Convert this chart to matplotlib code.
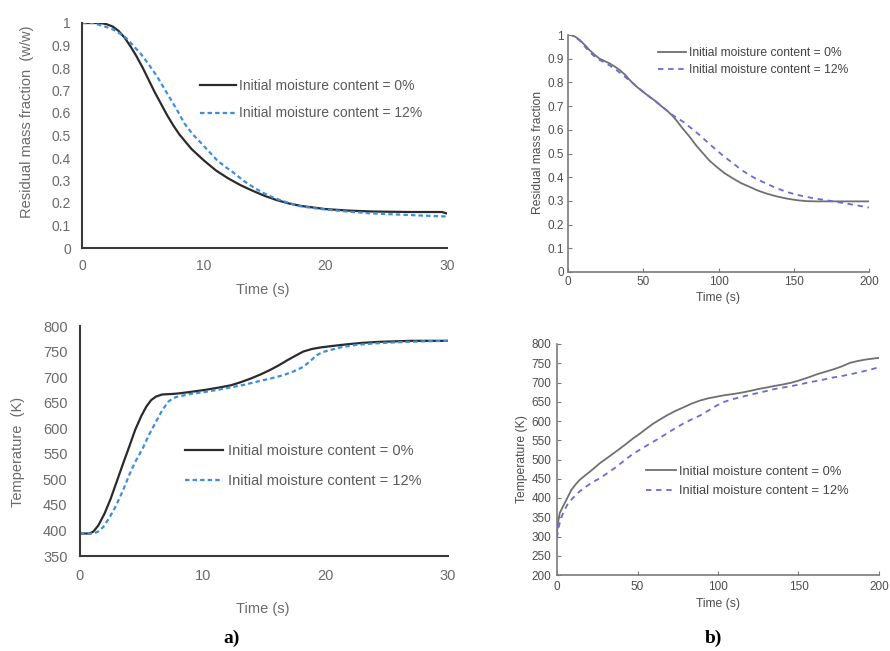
import numpy as np
import matplotlib.pyplot as plt

plt.rcParams['font.family'] = ['Liberation Sans', 'DejaVu Sans']

W, H = 890, 651

# (a) residual mass fraction, 0-30 s
ta_m0 = [0, 1.5, 2, 2.5, 3, 3.5, 4, 4.5, 5, 5.5, 6, 6.5, 7, 7.5, 8, 9, 10, 11, 12, 13, 14, 15, 16, 17, 18, 20, 22, 24, 27, 29.6, 30]
ma_m0 = [1.0, 1.0, 0.995, 0.985, 0.965, 0.935, 0.895, 0.85, 0.8, 0.745, 0.69, 0.64, 0.59, 0.545, 0.505, 0.44, 0.39, 0.345, 0.31, 0.28, 0.255, 0.232, 0.213, 0.198, 0.187, 0.173, 0.166, 0.162, 0.16, 0.16, 0.153]
ta_m12 = [0, 0.9, 1.5, 2, 2.6, 3.2, 3.7, 4.2, 4.8, 5.5, 6.2, 6.8, 7.3, 7.9, 8.4, 9.1, 9.8, 10.5, 11.1, 11.8, 12.5, 13.3, 14.2, 15, 15.8, 17, 18, 19.5, 20.8, 22, 23.5, 25, 26.3, 28, 30]
ma_m12 = [1.0, 1.0, 0.99, 0.982, 0.97, 0.95, 0.93, 0.9, 0.865, 0.815, 0.76, 0.705, 0.66, 0.605, 0.555, 0.505, 0.466, 0.425, 0.39, 0.36, 0.333, 0.298, 0.266, 0.242, 0.222, 0.2, 0.185, 0.174, 0.167, 0.161, 0.155, 0.151, 0.148, 0.144, 0.14]

# (a) temperature, 0-30 s
ta_T0 = [0, 0.8, 1.1, 1.5, 2, 2.5, 3, 3.5, 4, 4.5, 5, 5.4, 5.8, 6.2, 6.7, 7.5, 8, 9, 10.2, 11.2, 12.3, 13.1, 13.9, 14.7, 15.5, 16.2, 16.9, 17.5, 18.2, 18.9, 19.6, 20.6, 21.7, 23, 24.4, 27, 30]
Ta_T0 = [394, 394, 398, 410, 433, 462, 496, 530, 563, 597, 624, 642, 655, 662, 666, 667, 668, 671, 675, 679, 684, 690, 697, 705, 714, 723, 733, 741, 750, 755, 758, 761, 764, 767, 769, 771, 771]
ta_T12 = [0, 1.1, 1.5, 1.9, 2.4, 2.95, 3.5, 4, 4.5, 5.1, 5.6, 6.2, 6.7, 7.2, 7.6, 8, 9, 10.2, 11.2, 12.3, 13.4, 14.4, 15.5, 16.6, 17.4, 18.2, 18.8, 19.3, 19.8, 20.4, 21.4, 22.5, 24, 25.7, 28, 30]
Ta_T12 = [394, 394, 398, 407, 425, 449, 478, 508, 534, 560, 586, 613, 635, 652, 659, 662, 667, 671, 675, 680, 685, 691, 697, 704, 711, 720, 732, 743, 749, 753, 759, 763, 766, 768, 770, 771]

# (b) residual mass fraction, 0-200 s
tb_m0 = [0, 2.2, 5, 7.8, 10, 12.2, 14.5, 16.6, 19, 21, 24, 27.7, 31, 34.4, 38, 41, 45, 49.9, 54, 58.8, 62, 65.4, 69, 72, 76, 80.9, 85, 89.8, 94, 98.7, 104, 109.8, 115, 120.8, 126, 131.9, 138, 145.2, 152, 158.5, 165, 172, 185, 200]
mb_m0 = [1.0, 1.0, 0.992, 0.979, 0.965, 0.951, 0.935, 0.923, 0.91, 0.9, 0.891, 0.88, 0.867, 0.852, 0.832, 0.81, 0.785, 0.76, 0.74, 0.718, 0.7, 0.683, 0.662, 0.64, 0.607, 0.57, 0.535, 0.5, 0.47, 0.444, 0.417, 0.394, 0.375, 0.359, 0.344, 0.331, 0.32, 0.31, 0.303, 0.299, 0.298, 0.298, 0.298, 0.298]
tb_m12 = [0, 2.2, 5, 7.8, 12, 16.6, 20, 23.3, 28, 32.2, 38, 43.2, 48, 54.3, 60, 65.4, 70, 76.5, 82, 87.6, 93, 98.7, 104, 109.8, 115, 120.8, 126, 131.9, 138, 145.2, 152, 158.5, 165, 171.8, 178, 185, 192, 200]
mb_m12 = [1.0, 1.0, 0.99, 0.977, 0.945, 0.915, 0.898, 0.887, 0.87, 0.852, 0.823, 0.796, 0.77, 0.739, 0.71, 0.683, 0.66, 0.634, 0.606, 0.577, 0.546, 0.514, 0.486, 0.458, 0.432, 0.408, 0.39, 0.373, 0.355, 0.338, 0.326, 0.317, 0.309, 0.303, 0.296, 0.289, 0.281, 0.272]

# (b) temperature, 0-200 s
tb_T0 = [0, 0.6, 1.7, 3.7, 5.8, 8.9, 11.5, 14.1, 17, 20.3, 23.5, 26.5, 30.5, 34.8, 39, 43.1, 47, 51.4, 55.5, 59.7, 64, 68, 73, 78.3, 83.5, 88.7, 94, 99.1, 104, 109.4, 115, 119.8, 125, 130.2, 135, 140.5, 146, 150.9, 156, 161.2, 166, 171.6, 177, 182, 187, 192.3, 196, 200]
Tb_T0 = [310, 335, 361, 378, 395, 421, 435, 447, 457, 468, 479, 490, 502, 515, 528, 541, 554, 567, 580, 593, 604, 614, 625, 635, 645, 653, 659, 663, 667, 670, 674, 678, 683, 687, 691, 695, 700, 706, 713, 721, 727, 734, 742, 751, 756, 760, 762, 764]
tb_T12 = [0, 0.8, 1.7, 3.2, 4.8, 7, 9.9, 14, 18.2, 22, 26.5, 31.5, 36.9, 42, 47.3, 52.5, 57.6, 63, 68, 73, 78.3, 83.5, 88.7, 94, 99.1, 104, 109.4, 115, 119.8, 125, 130.2, 135, 140.5, 146, 150.9, 156, 161.2, 166, 171.6, 177, 182, 187, 192.3, 196, 200]
Tb_T12 = [297, 320, 335, 355, 370, 387, 400, 417, 430, 441, 451, 465, 481, 498, 515, 528, 541, 554, 567, 580, 593, 604, 614, 627, 640, 650, 657, 663, 668, 673, 678, 683, 687, 691, 695, 700, 704, 708, 713, 717, 721, 726, 731, 735, 740]

lab0 = 'Initial moisture content = 0%'
lab12 = 'Initial moisture content = 12%'


def box(x0, y0, x1, y1):
    # pixel box (top-left origin) -> figure fraction rect
    return [x0 / W, 1 - y1 / H, (x1 - x0) / W, (y1 - y0) / H]


def ftext(x, y, s, **kw):
    fig.text(x / W, 1 - y / H, s, ha='center', va='center', **kw)


fig = plt.figure(figsize=(W / 100, H / 100), dpi=100)

# ---- left column: spreadsheet style ----
def style_left(ax):
    for s in ['top', 'right']:
        ax.spines[s].set_visible(False)
    for s in ['left', 'bottom']:
        ax.spines[s].set_color('#3a3a3a')
        ax.spines[s].set_linewidth(1.5)
    ax.tick_params(length=0, labelsize=10, labelcolor='#6a6a6a', pad=8)


ax1 = fig.add_axes(box(82, 23, 447, 248))
ax1.plot(ta_m0, ma_m0, color='#2b2b2b', lw=1.6, label=lab0)
ax1.plot(ta_m12, ma_m12, color='#3d8ee0', lw=1.6, dashes=(2, 1.4), label=lab12)
ax1.set_xlim(0, 30)
ax1.set_ylim(0, 1)
ax1.set_xticks([0, 10, 20, 30])
yt = np.round(np.arange(0, 1.01, 0.1), 1)
ax1.set_yticks(yt)
ax1.set_yticklabels(['0'] + [f'{v:.1f}' for v in yt[1:-1]] + ['1'])
style_left(ax1)
ax1.legend(frameon=False, loc='upper left', bbox_to_anchor=(0.323, 0.75), borderpad=0,
           borderaxespad=0, handlelength=2.6, handletextpad=0.25, labelspacing=0.95,
           fontsize=10, labelcolor='#5a5a5a')
ftext(27, 122, 'Residual mass fraction  (w/w)', rotation=90, fontsize=10.5, color='#6a6a6a')
ftext(263, 290, 'Time (s)', fontsize=10.5, color='#6a6a6a')

ax2 = fig.add_axes(box(80, 326, 448, 556))
ax2.plot(ta_T0, Ta_T0, color='#2b2b2b', lw=1.6, label=lab0)
ax2.plot(ta_T12, Ta_T12, color='#3d8ee0', lw=1.6, dashes=(2, 1.4), label=lab12)
ax2.set_xlim(0, 30)
ax2.set_ylim(350, 800)
ax2.set_xticks([0, 10, 20, 30])
ax2.set_yticks(np.arange(350, 801, 50))
style_left(ax2)
ax2.tick_params(labelsize=10.5, pad=9)
ax2.legend(frameon=False, loc='upper left', bbox_to_anchor=(0.286, 0.485), borderpad=0,
           borderaxespad=0, handlelength=2.6, handletextpad=0.3, labelspacing=1.1,
           fontsize=10.5, labelcolor='#5a5a5a')
ftext(18, 452, 'Temperature  (K)', rotation=90, fontsize=10.5, color='#6a6a6a')
ftext(263, 609, 'Time (s)', fontsize=10.5, color='#6a6a6a')

# ---- right column: boxed-off plot with inward ticks ----
def style_right(ax):
    for s in ['top', 'right']:
        ax.spines[s].set_visible(False)
    for s in ['left', 'bottom']:
        ax.spines[s].set_color('#7a7a7a')
        ax.spines[s].set_linewidth(1.2)
    ax.tick_params(direction='in', length=3, width=0.8, color='#7a7a7a',
                   labelsize=8.5, labelcolor='#4d4d4d', pad=3)


ax3 = fig.add_axes(box(568, 35, 869, 272))
ax3.plot(tb_m0, mb_m0, color='#707070', lw=1.3, label=lab0)
ax3.plot(tb_m12, mb_m12, color='#6a6ad8', lw=1.3, dashes=(3, 2.6), label=lab12)
ax3.set_xlim(0, 200)
ax3.set_ylim(0, 1)
ax3.set_xticks([0, 50, 100, 150, 200])
ax3.set_yticks(yt)
ax3.set_yticklabels(['0'] + [f'{v:.1f}' for v in yt[1:-1]] + ['1'])
style_right(ax3)
ax3.legend(frameon=False, loc='upper left', bbox_to_anchor=(0.299, 0.95), borderpad=0,
           borderaxespad=0, handlelength=2.3, handletextpad=0.25, labelspacing=0.45,
           fontsize=8.7, labelcolor='#444444')
ftext(538, 153, 'Residual mass fraction', rotation=90, fontsize=8.7, color='#4d4d4d')
ftext(718, 298, 'Time (s)', fontsize=8.7, color='#4d4d4d')

ax4 = fig.add_axes(box(557, 344, 879, 575))
ax4.plot(tb_T0, Tb_T0, color='#707070', lw=1.3, label=lab0)
ax4.plot(tb_T12, Tb_T12, color='#6a6ad8', lw=1.3, dashes=(3, 2.6), label=lab12)
ax4.set_xlim(0, 200)
ax4.set_ylim(200, 800)
ax4.set_xticks([0, 50, 100, 150, 200])
ax4.set_yticks(np.arange(200, 801, 50))
style_right(ax4)
ax4.tick_params(pad=4)
ax4.legend(frameon=False, loc='upper left', bbox_to_anchor=(0.276, 0.472), borderpad=0,
           borderaxespad=0, handlelength=2.3, handletextpad=0.25, labelspacing=0.55,
           fontsize=9.3, labelcolor='#444444')
ftext(522, 459, 'Temperature (K)', rotation=90, fontsize=8.7, color='#4d4d4d')
ftext(718, 604, 'Time (s)', fontsize=8.7, color='#4d4d4d')

# panel tags
ftext(232, 638, 'a)', fontsize=14, fontweight='bold', family='Liberation Serif')
ftext(713, 638, 'b)', fontsize=14, fontweight='bold', family='Liberation Serif')

fig.savefig('out.png', dpi=100)
